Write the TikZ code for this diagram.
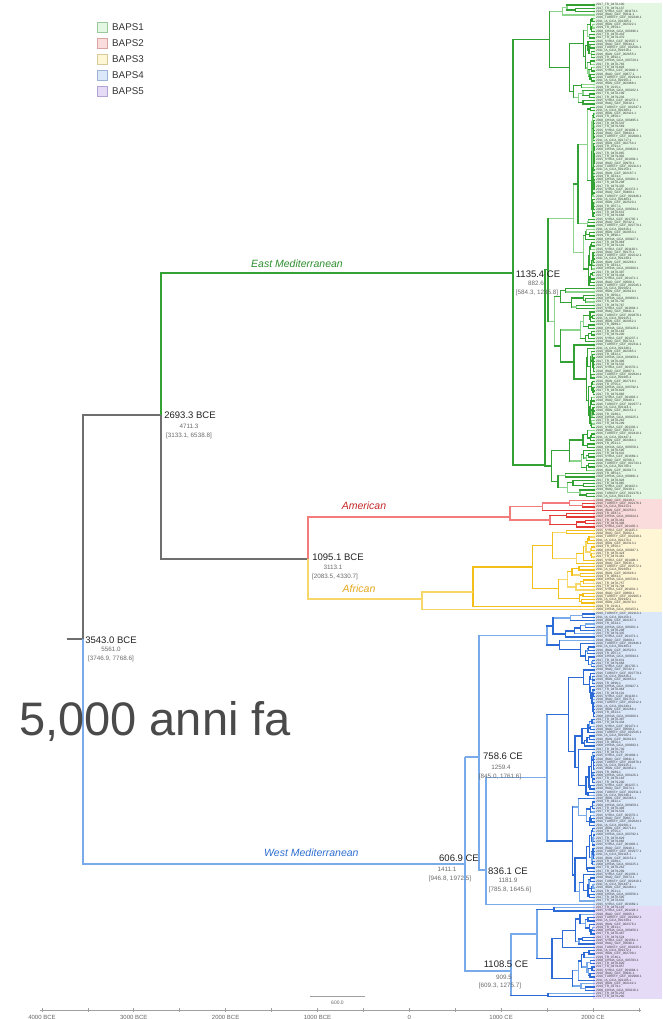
\documentclass[tikz,border=0pt]{standalone}
\usepackage{fontspec}
\setmainfont{Liberation Sans}
\definecolor{grnDk}{HTML}{34A134}
\definecolor{grnLt}{HTML}{8CD38C}
\definecolor{redDk}{HTML}{E53935}
\definecolor{redLt}{HTML}{F27C7C}
\definecolor{yelDk}{HTML}{F3C01A}
\definecolor{yelLt}{HTML}{F7D66A}
\definecolor{bluDk}{HTML}{2C6BD6}
\definecolor{bluLt}{HTML}{79AAEA}
\definecolor{rootGray}{HTML}{6E6E6E}
\definecolor{bandG}{HTML}{E3F7E3}
\definecolor{bandR}{HTML}{FBDCDC}
\definecolor{bandY}{HTML}{FFF6D6}
\definecolor{bandB}{HTML}{DBE8FA}
\definecolor{bandP}{HTML}{E5DBF7}
\definecolor{legG}{HTML}{9BC99B}
\definecolor{legR}{HTML}{D9A3A3}
\definecolor{legY}{HTML}{D6C99A}
\definecolor{legB}{HTML}{9DB3D4}
\definecolor{legP}{HTML}{B3A3D1}
\definecolor{tEast}{HTML}{2E8F2E}
\definecolor{tAm}{HTML}{C62828}
\definecolor{tAf}{HTML}{E3A81C}
\definecolor{tWest}{HTML}{2F6FD0}
\definecolor{ttxt}{HTML}{222222}
\definecolor{tsub}{HTML}{6A6A6A}
\definecolor{bigtxt}{HTML}{4A4A4A}
\definecolor{axgray}{HTML}{A0A0A0}
\definecolor{tiptxt}{HTML}{3A3A3A}

\def\tipend{594}
\gdef\ys{0}\gdef\yst{3.3}
% one segment list per colour, drawn later as a single path each
\gdef\segsgrnDk{}\gdef\segsgrnLt{}\gdef\segsredDk{}\gdef\segsredLt{}
\gdef\segsyelDk{}\gdef\segsyelLt{}\gdef\segsbluDk{}\gdef\segsbluLt{}
\newcommand\addseg[5]{%
 \expandafter\xdef\csname segs#1\endcsname{\csname segs#1\endcsname (#2,#3)--(#4,#5)}}
\newcommand\drawsegs[1]{%
 \edef\tmpdraw{\noexpand\draw[tree,draw=#1] \csname segs#1\endcsname;}\tmpdraw}

\newcommand\tiptext{\ifcase\tm\relax 2017\_TR\_0478-\tn\or 2016\_TURKEY\_GCF\_002\tn.1\or 2008\_CHINA\_GCA\_003\tn.1\or 2018\_IRAQ\_GCF\_00\tn.1\or 2019\_TR\_0\tn-1\or 2015\_SYRIA\_GCF\_001\tn.1\or 2016\_IRAN\_GCF\_002\tn.1\or 2017\_TR\_0479-\tn\else 2011\_IA\_GCA\_001\tn.1\fi}

\newcommand\subtr[5]{%
 \begingroup
 \pgfmathtruncatemacro\tA{#1}%
 \pgfmathtruncatemacro\tB{#2}%
 \pgfmathsetmacro\tPX{#3}%
 \edef\tCD{#4}\edef\tCL{#5}%
 \ifnum\tA=\tB\relax
  \pgfmathsetmacro\tY{\ys+\tA*\yst}%
  \pgfmathrandominteger{\tcc}{0}{3}%
  \ifnum\tcc=0 \edef\tC{\tCL}\else\edef\tC{\tCD}\fi
  \addseg{\tC}{\tPX}{\tY}{\tipend}{\tY}%
  \xdef\gres{\tY}%
 \else
  \pgfmathsetmacro\tX{\tPX+(\tipend-\tPX)*(0.12+0.5*rnd)}%
  \pgfmathtruncatemacro\tBm{\tB-1}%
  \pgfmathrandominteger{\tK}{\tA}{\tBm}%
  \subtr{\tA}{\tK}{\tX}{\tCD}{\tCL}\let\tYa\gres
  \pgfmathtruncatemacro\tKp{\tK+1}%
  \subtr{\tKp}{\tB}{\tX}{\tCD}{\tCL}\let\tYb\gres
  \pgfmathsetmacro\tY{(\tYa+\tYb)/2}%
  \pgfmathrandominteger{\tcc}{0}{2}%
  \ifnum\tcc=0 \edef\tC{\tCL}\else\edef\tC{\tCD}\fi
  \addseg{\tC}{\tX}{\tYa}{\tX}{\tYb}%
  \addseg{\tC}{\tPX}{\tY}{\tX}{\tY}%
  \xdef\gres{\tY}%
 \fi
 \endgroup}

\newcommand\joinmid[5]{%
 \pgfmathsetmacro\jY{(#3+#4)/2}%
 \addseg{#5}{#2}{#3}{#2}{#4}%
 \addseg{#5}{#1}{\jY}{#2}{\jY}%
 \xdef\gres{\jY}}

\newcommand\vjoin[5]{%
 \pgfmathsetmacro\jA{min(#2,#3,#4)}%
 \pgfmathsetmacro\jB{max(#2,#3,#4)}%
 \addseg{#5}{#1}{\jA}{#1}{\jB}}

\newcommand\tiplabels[4]{%
 \foreach \ii in {0,...,#2}{%
  \pgfmathsetmacro\tY{#1+\ii*3.3}%
  \pgfmathtruncatemacro\tm{mod(\ii*7+#3,9)}%
  \pgfmathtruncatemacro\tn{mod(\ii*37+#3*13,900)+100}%
  \node[tiplab] (#4\ii) at (\tipend+1.8,\tY) {\tiptext};}}

\begin{document}
\begin{tikzpicture}[x=1pt,y=-1pt,
 tree/.style={line width=1.3pt,line cap=rect},
 bb/.style={line width=1.4pt},
 tiplab/.style={anchor=west,inner sep=0pt,font=\fontsize{3.2}{3.3}\selectfont,text=tiptxt},
 ttl/.style={inner sep=0pt,font=\fontsize{9.5}{10}\selectfont,text=ttxt},
 sublab/.style={inner sep=0pt,font=\fontsize{6.3}{7}\selectfont,text=tsub},
 clab/.style={inner sep=0pt,font=\fontsize{10.5}{12}\selectfont\itshape},
 legbox/.style={minimum size=10pt,inner sep=0pt,line width=0.6pt},
 leglab/.style={anchor=west,inner sep=0pt,font=\fontsize{9.8}{10}\selectfont,text=black!80},
 axis/.style={draw=axgray,line width=0.8pt},
 axlab/.style={inner sep=0pt,font=\fontsize{6}{7}\selectfont,text=black!60}]
\useasboundingbox (0,0) rectangle (662,1019);
\fill[white] (0,0) rectangle (662,1019);
\pgfmathsetseed{11}

% colour bands
\fill[bandG] (593,3.3) rectangle (662,498.5);
\fill[bandR] (593,498.5) rectangle (662,528.5);
\fill[bandY] (593,528.5) rectangle (662,611.8);
\fill[bandB] (593,611.8) rectangle (662,906);
\fill[bandP] (593,906) rectangle (662,998.5);

% backbone coordinates
\coordinate (rootstub) at (67,639);
\coordinate (root) at (83,639);
\coordinate (n2693) at (161,415);
\coordinate (n1135) at (513,273);
\coordinate (n1095) at (308,559);
\coordinate (nAm) at (510,517);
\coordinate (nAf) at (422,599);
\coordinate (nAf1) at (473,592);
\coordinate (n607) at (465,864);
\coordinate (n759) at (479,757);
\coordinate (n836) at (486,870);
\coordinate (n1109) at (511,971);
\coordinate (nL1) at (545,465);

% ---------- green clade (BAPS1)
\gdef\ys{5}\gdef\yst{3.3}
\subtr{0}{30}{513}{grnDk}{grnLt}\let\gT\gres
\subtr{31}{85}{548}{grnDk}{grnLt}\let\gLa\gres
\subtr{86}{128}{548}{grnDk}{grnLt}\let\gLb\gres
\joinmid{545}{548}{\gLa}{\gLb}{grnDk}\let\gLab\gres
\subtr{129}{149}{545}{grnDk}{grnLt}\let\gLc\gres
\vjoin{545}{\gLab}{\gLc}{465}{grnDk}
\vjoin{513}{\gT}{465}{273}{grnDk}
\addseg{grnDk}{513}{465}{545}{465}

% ---------- red clade (BAPS2)
\gdef\ys{500.5}
\subtr{0}{3}{510}{redDk}{redLt}\let\rA\gres
\subtr{4}{8}{510}{redDk}{redLt}\let\rB\gres
\vjoin{510}{\rA}{\rB}{517}{redLt}

% ---------- yellow clade (BAPS3)
\gdef\ys{530.5}
\subtr{0}{22}{473}{yelDk}{yelLt}\let\yA\gres
\subtr{23}{23}{473}{yelDk}{yelLt}\let\yB\gres
\vjoin{473}{\yA}{\yB}{592}{yelDk}
\subtr{24}{24}{422}{yelDk}{yelLt}\let\yC\gres
\vjoin{422}{592}{\yC}{599}{yelLt}

% ---------- blue clade (BAPS4)
\gdef\ys{614}
\subtr{0}{7}{547}{bluDk}{bluLt}\let\bUa\gres
\subtr{8}{16}{547}{bluDk}{bluLt}\let\bUb\gres
\joinmid{479}{547}{\bUa}{\bUb}{bluLt}\let\bU\gres
\subtr{17}{55}{547}{bluDk}{bluLt}\let\bCa\gres
\subtr{56}{87}{547}{bluDk}{bluLt}\let\bCb\gres
\joinmid{486}{547}{\bCa}{\bCb}{bluLt}\let\bC\gres
\subtr{88}{88}{486}{bluLt}{bluLt}\let\bT\gres
\vjoin{486}{\bC}{\bT}{870}{bluLt}
\vjoin{479}{\bU}{870}{757}{bluLt}

% ---------- purple clade (BAPS5)
\gdef\ys{907.7}
\subtr{0}{1}{537}{bluDk}{bluLt}\let\pA\gres
\subtr{2}{12}{552}{bluDk}{bluLt}\let\pBa\gres
\subtr{13}{25}{552}{bluDk}{bluLt}\let\pBb\gres
\joinmid{537}{552}{\pBa}{\pBb}{bluDk}\let\pB\gres
\joinmid{511}{537}{\pA}{\pB}{bluLt}\let\pP\gres
\subtr{26}{27}{511}{bluDk}{bluLt}\let\pQ\gres
\vjoin{511}{\pP}{\pQ}{971}{bluLt}

% ---------- draw the collected branches, one path per colour
\drawsegs{grnLt}
\drawsegs{grnDk}
\drawsegs{redLt}
\drawsegs{redDk}
\drawsegs{yelLt}
\drawsegs{yelDk}
\drawsegs{bluLt}
\drawsegs{bluDk}

% ---------- backbone, one path per colour
\draw[bb,draw=rootGray] (rootstub) -- (root) (root) -- (root |- n2693) -- (n2693)
  (n2693) -- (n2693 |- n1095) -- (n1095);
\draw[bb,draw=bluLt] (root) -- (root |- n607) -- (n607)
  (n607 |- n759) -- (n759)
  (n607 |- n759) -- (n607 |- n1109) -- (n1109)
  (n759 |- n836) -- (n836);
\draw[bb,draw=grnDk] (n2693) -- (n2693 |- n1135) -- (n1135);
\draw[bb,draw=redLt] (n1095) -- (n1095 |- nAm) -- (nAm);
\draw[bb,draw=yelLt] (n1095) -- (n1095 |- nAf) -- (nAf) (nAf |- nAf1) -- (nAf1);

% ---------- scale bar and axis lines (one path)
\coordinate (sb1) at (310,996);
\coordinate (sb2) at (365,996);
\coordinate (axl) at (40,1010);
\coordinate (axr) at (641,1010);
\draw[axis] (sb1) -- (sb2) (axl) -- (axr)
  \foreach \k in {0,...,13}{({42+\k*45.915},1008) -- ({42+\k*45.915},1012)};

% legend boxes
\foreach \i/\c in {1/G,2/R,3/Y,4/B,5/P}{
 \node[legbox,fill=band\c,draw=leg\c] (lb\i) at (102,{11+16*\i}) {};}

% ================= all text after all lines =================
\tiplabels{5}{149}{0}{tg}
\tiplabels{500.5}{8}{3}{tr}
\tiplabels{530.5}{24}{5}{ty}
\tiplabels{614}{88}{1}{tb}
\tiplabels{907.7}{27}{7}{tp}

\foreach \i in {1,...,5}{
 \node[leglab] (ll\i) at (112,{11+16*\i}) {BAPS\i};}

% clade labels
\node[clab,text=tEast] (lEast) at (297,264) {East Mediterranean};
\node[clab,text=tAm] (lAm) at (364,506) {American};
\node[clab,text=tAf] (lAf) at (359,589) {African};
\node[clab,text=tWest,anchor=west] (lWest) at (264,853) {West Mediterranean};

% node labels
\node[ttl] (t2693) at (190,415) {2693.3 BCE};
\node[sublab] (m2693) at (189,426) {4711.3};
\node[sublab] (h2693) at (189,435.5) {[3133.1, 6538.8]};

\node[ttl] (t1135) at (538,274) {1135.4 CE};
\node[sublab] (m1135) at (536,283) {882.6};
\node[sublab] (h1135) at (537,292.5) {[584.3, 1235.8]};

\node[ttl] (t1095) at (338,557) {1095.1 BCE};
\node[sublab] (m1095) at (333,567) {3113.1};
\node[sublab] (h1095) at (335,576.5) {[2083.5, 4330.7]};

\node[ttl] (t3543) at (111,640) {3543.0 BCE};
\node[sublab] (m3543) at (111,649.5) {5561.0};
\node[sublab] (h3543) at (111,658.5) {[3746.9, 7768.6]};

\node[ttl] (t759) at (503,756) {758.6 CE};
\node[sublab] (m759) at (501,767) {1259.4};
\node[sublab] (h759) at (500,776.5) {[845.0, 1761.6]};

\node[ttl] (t607) at (459,858) {606.9 CE};
\node[sublab] (m607) at (447,869) {1411.1};
\node[sublab] (h607) at (450,878.5) {[946.8, 1972.5]};

\node[ttl] (t836) at (508,871) {836.1 CE};
\node[sublab] (m836) at (508,880.5) {1181.9};
\node[sublab] (h836) at (510,889.5) {[785.8, 1645.6]};

\node[ttl] (t1109) at (506,964) {1108.5 CE};
\node[sublab] (m1109) at (504,977) {909.5};
\node[sublab] (h1109) at (500,986) {[609.3, 1275.7]};

% big caption
\node[anchor=base west,inner sep=0pt,font=\fontsize{47}{50}\selectfont,text=bigtxt] (big) at (19,735) {5,000 anni fa};

% axis texts
\node[axlab,font=\fontsize{5}{6}\selectfont] (sbl) at (337.5,1003) {600.0};
\foreach \k/\t in {0/4000 BCE,2/3000 BCE,4/2000 BCE,6/1000 BCE,8/0,10/1000 CE,12/2000 CE}{
 \node[axlab] (ax\k) at ({42+\k*45.915},1017) {\t};}
\end{tikzpicture}
\end{document}
